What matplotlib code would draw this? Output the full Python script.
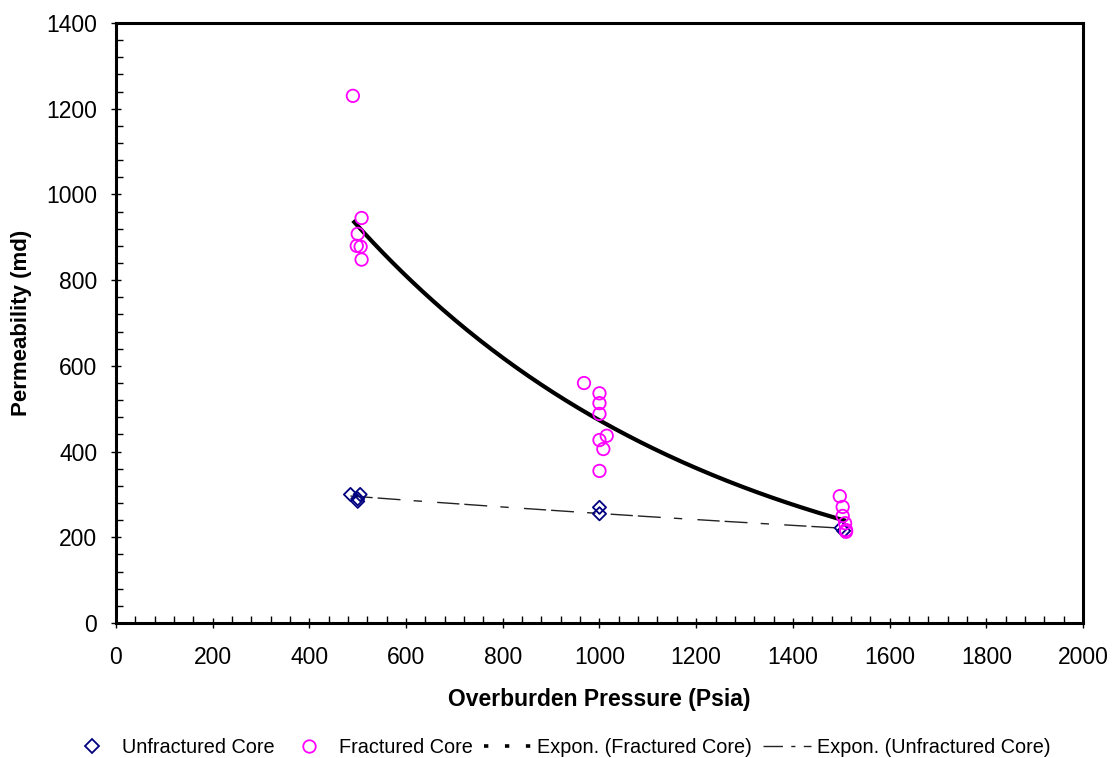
import numpy as np
import matplotlib
matplotlib.use("Agg")
import matplotlib.pyplot as plt
from matplotlib.lines import Line2D
from matplotlib.ticker import MultipleLocator

plt.rcParams['font.family'] = ['Liberation Sans', 'DejaVu Sans']

# unfractured core measurements
unfrac_p = [485, 505, 500, 500, 1000, 1000, 1500, 1505]
unfrac_k = [300, 300, 290, 284, 270, 255, 222, 215]

# fractured core measurements
frac_p = [490, 508, 500, 498, 506, 508,
          968, 1000, 1000, 1000, 1015, 1000, 1008, 1000,
          1497, 1503, 1503, 1508, 1510, 1510]
frac_k = [1230, 945, 908, 880, 878, 848,
          560, 536, 513, 488, 437, 427, 406, 355,
          296, 271, 250, 233, 217, 213]

fig = plt.figure(figsize=(11.12, 7.58), dpi=100)
ax = fig.add_axes([0.1043, 0.178, 0.8696, 0.7917])


def expon_fit(x, y):
    x = np.asarray(x, float)
    y = np.asarray(y, float)
    b, a = np.polyfit(x, np.log(y), 1)
    xs = np.linspace(x.min(), x.max(), 200)
    return xs, np.exp(a) * np.exp(b * xs)


unfrac_dash = (16, 3.6, 16.5, 9.5, 6, 11)

# trendlines (Excel style exponential fits)
fx, fy = expon_fit(frac_p, frac_k)
ax.plot(fx, fy, color='black', lw=3, solid_capstyle='butt', zorder=2)
ux, uy = expon_fit(unfrac_p, unfrac_k)
ax.plot(ux, uy, color='#222222', lw=1, dashes=unfrac_dash, zorder=2)

ax.scatter(unfrac_p, unfrac_k, marker='D', s=45, facecolors='none',
           edgecolors='#000080', linewidths=1.3, zorder=3)
ax.scatter(frac_p, frac_k, marker='o', s=80, facecolors='none',
           edgecolors='#ff00ff', linewidths=1.3, zorder=3)

ax.set_xlim(0, 2000)
ax.set_ylim(0, 1400)
ax.xaxis.set_major_locator(MultipleLocator(200))
ax.xaxis.set_minor_locator(MultipleLocator(40))
ax.yaxis.set_major_locator(MultipleLocator(200))
ax.yaxis.set_minor_locator(MultipleLocator(40))
ax.tick_params(which='major', direction='inout', length=7, width=1, labelsize=16.5)
ax.tick_params(axis='x', which='major', pad=13)
ax.tick_params(axis='y', which='major', pad=10)
ax.tick_params(which='minor', direction='in', length=5, width=1)
for s in ax.spines.values():
    s.set_linewidth(2.2)

ax.set_xlabel('Overburden Pressure (Psia)', fontsize=16.5, fontweight='bold', labelpad=14)
ax.set_ylabel('Permeability (md)', fontsize=16, fontweight='bold', labelpad=10)

handles = [
    Line2D([], [], ls='none', marker='D', ms=7, mfc='none', mec='#000080', mew=1.3),
    Line2D([], [], ls='none', marker='o', ms=9, mfc='none', mec='#ff00ff', mew=1.3),
    Line2D([], [], color='black', lw=2.6, dashes=(1.2, 4.6)),
    Line2D([], [], color='#222222', lw=1, dashes=(14, 6, 3, 6)),
]
labels = ['Unfractured Core', 'Fractured Core',
          'Expon. (Fractured Core)', 'Expon. (Unfractured Core)']
fig.legend(handles, labels, loc='center', bbox_to_anchor=(0.503, 0.0145),
           ncol=4, frameon=False, fontsize=14.3, handlelength=2.4,
           handletextpad=0.3, columnspacing=0.55, borderaxespad=0,
           borderpad=0)

fig.savefig('out.png', dpi=100)
